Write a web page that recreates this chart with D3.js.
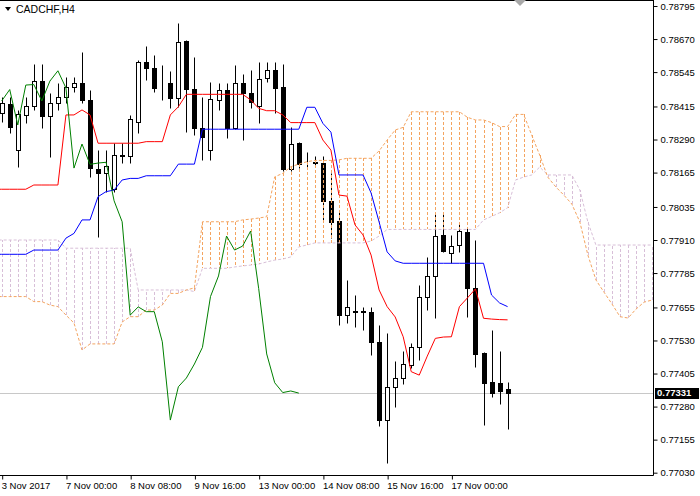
<!DOCTYPE html>
<html><head><meta charset="utf-8">
<script src="https://cdn.jsdelivr.net/npm/d3@7"></script>
<style>body{margin:0;background:#fff;} svg{display:block;}</style>
</head><body><svg id="c" width="700" height="496"></svg>
<script>
// ---------------- DATA ----------------
const symbol = "CADCHF,H4";
const timeLabels = ["3 Nov 2017","7 Nov 00:00","8 Nov 08:00","9 Nov 16:00","13 Nov 00:00","14 Nov 08:00","15 Nov 16:00","17 Nov 00:00"];
const timeLabelBars = [0,8,16,24,32,40,48,56];
const priceTicks = [0.78795,0.78670,0.78545,0.78415,0.78290,0.78165,0.78035,0.77910,0.77785,0.77655,0.77530,0.77405,0.77280,0.77155,0.77030];
const lastPrice = 0.77331;

// candles, bar 0 .. 63
const open = [0.78390,0.78423,0.78250,0.78383,0.78417,0.78511,0.78379,0.78429,0.78452,0.78490,
0.78503,0.78440,0.78177,0.78162,0.78103,0.78228,0.78228,0.78357,0.78584,0.78559,
0.78504,0.78503,0.78446,0.78664,0.78480,0.78333,0.78250,0.78440,0.78477,0.78333,
0.78504,0.78466,0.78417,0.78523,0.78553,0.78489,0.78177,0.78278,0.78200,0.78203,
0.78202,0.78059,0.77982,0.77626,0.77639,0.77640,0.77639,0.77525,0.77229,0.77355,
0.77387,0.77437,0.77504,0.77696,0.77774,0.77929,0.77862,0.77891,0.77941,0.77727,
0.77484,0.77374,0.77370,0.77345];
const high = [0.78451,0.78452,0.78402,0.78452,0.78575,0.78575,0.78465,0.78503,0.78528,0.78528,
0.78622,0.78477,0.78250,0.78250,0.78277,0.78277,0.78383,0.78591,0.78644,0.78610,
0.78572,0.78550,0.78730,0.78666,0.78603,0.78452,0.78509,0.78503,0.78503,0.78572,
0.78538,0.78553,0.78583,0.78583,0.78583,0.78576,0.78339,0.78281,0.78244,0.78228,
0.78228,0.78162,0.78024,0.77759,0.77702,0.77657,0.77658,0.77589,0.77559,0.77454,
0.77491,0.77519,0.77740,0.77847,0.78012,0.78013,0.77929,0.77974,0.77960,0.77910,
0.77486,0.77570,0.77490,0.77374];
const low = [0.78356,0.78314,0.78187,0.78351,0.78402,0.78333,0.78225,0.78402,0.78427,0.78471,
0.78427,0.78149,0.77923,0.78093,0.78092,0.78200,0.78200,0.78314,0.78515,0.78471,
0.78440,0.78408,0.78414,0.78320,0.78307,0.78213,0.78213,0.78402,0.78295,0.78330,
0.78288,0.78409,0.78353,0.78508,0.78390,0.78171,0.78171,0.78182,0.78177,0.78191,
0.77986,0.77917,0.77589,0.77596,0.77581,0.77570,0.77475,0.77207,0.77066,0.77277,
0.77365,0.77425,0.77456,0.77645,0.77615,0.77865,0.77822,0.77866,0.77620,0.77429,
0.77210,0.77315,0.77289,0.77194];
const close = [0.78428,0.78339,0.78385,0.78417,0.78511,0.78379,0.78429,0.78452,0.78490,0.78503,
0.78440,0.78181,0.78162,0.78190,0.78231,0.78230,0.78367,0.78584,0.78559,0.78484,
0.78502,0.78446,0.78660,0.78480,0.78333,0.78301,0.78442,0.78477,0.78333,0.78503,
0.78466,0.78432,0.78519,0.78553,0.78485,0.78177,0.78273,0.78196,0.78201,0.78204,
0.78058,0.77979,0.77626,0.77657,0.77640,0.77639,0.77525,0.77229,0.77355,0.77388,
0.77441,0.77504,0.77696,0.77774,0.77925,0.77870,0.77887,0.77944,0.77727,0.77479,
0.77370,0.77333,0.77339,0.77331];

// Ichimoku lines, bar -1 .. 63
const tenkan = [0.78102,0.78102,0.78102,0.78102,0.78102,0.78118,0.78118,0.78118,0.78118,
0.78383,0.78383,0.78402,0.78383,
0.78276,0.78276,0.78276,0.78276,0.78276,0.78276,
0.78282,0.78282,0.78282,0.78383,0.78414,
0.78461,0.78461,0.78461,0.78461,0.78461,0.78461,0.78461,0.78461,
0.78440,0.78408,0.78399,0.78399,0.78383,0.78354,0.78354,0.78354,0.78354,
0.78288,0.78250,0.78080,0.78076,0.77967,0.77929,0.77853,0.77721,0.77658,0.77619,
0.77544,0.77412,0.77399,0.77471,0.77538,0.77543,0.77544,0.77658,0.77691,0.77725,
0.77614,0.77611,0.77609,0.77608];
const kijun = [0.77856,0.77856,0.77856,0.77856,0.77856,0.77872,0.77872,0.77872,0.77872,
0.77917,0.77935,0.77986,0.77986,0.78074,0.78093,0.78099,0.78137,0.78143,0.78143,
0.78153,0.78153,0.78153,0.78153,0.78197,0.78197,0.78197,
0.78329,0.78329,0.78329,0.78329,0.78329,0.78329,0.78329,0.78329,0.78329,0.78329,0.78329,0.78329,0.78329,
0.78412,0.78412,0.78351,0.78318,0.78156,0.78156,0.78156,0.78156,0.78088,0.77978,0.77865,0.77831,
0.77822,0.77822,0.77822,0.77822,0.77822,0.77822,0.77822,0.77822,0.77822,0.77822,0.77822,
0.77702,0.77672,0.77658];
// Chikou span, bar 0 .. 37
const chikou = [0.78436,0.78479,0.78345,0.78496,0.78498,0.78436,0.78511,0.78550,0.78485,0.78182,
0.78273,0.78196,0.78201,0.78204,0.78058,0.77979,0.77626,0.77657,0.77639,0.77639,
0.77525,0.77229,0.77355,0.77388,0.77441,0.77504,0.77696,0.77774,0.77925,0.77872,
0.77887,0.77944,0.77727,0.77479,0.77370,0.77333,0.77339,0.77331];
// Senkou spans, bar -1 .. 81
const senkouA = [0.77696,0.77696,0.77696,0.77696,0.77696,0.77677,0.77677,0.77664,0.77658,0.77626,
0.77596,0.77494,0.77517,0.77517,0.77517,0.77517,0.77600,0.77620,0.77620,0.77645,
0.77645,0.77664,0.77708,0.77708,0.77721,0.77729,0.77979,0.77979,0.77979,0.77979,
0.77979,0.77986,0.77989,0.77993,0.77998,0.78149,0.78162,0.78187,0.78197,0.78206,
0.78211,0.78211,0.78211,0.78213,0.78219,0.78219,0.78219,0.78219,0.78247,0.78288,
0.78326,0.78336,0.78395,0.78395,0.78395,0.78395,0.78395,0.78395,0.78395,0.78374,
0.78364,0.78364,0.78354,0.78339,0.78339,0.78385,0.78385,0.78307,0.78231,0.78148,
0.78111,0.78080,0.78046,0.77978,0.77853,0.77759,0.77713,0.77668,0.77620,0.77615,
0.77649,0.77675,0.77683];
const senkouB = [0.77910,0.77910,0.77910,0.77910,0.77910,0.77910,0.77910,0.77910,0.77910,
0.77879,0.77879,0.77879,0.77879,0.77879,0.77879,0.77879,0.77879,0.77879,
0.77721,0.77721,0.77721,0.77721,0.77721,0.77721,0.77721,0.77715,
0.77803,0.77803,0.77803,0.77803,0.77808,0.77812,0.77815,0.77819,0.77827,0.77834,0.77838,0.77846,
0.77884,0.77891,0.77899,0.77899,0.77899,0.77899,0.77899,0.77899,0.77899,0.77906,0.77925,
0.77950,0.77950,0.77950,0.77950,0.77950,0.77950,0.77950,0.77950,0.77950,0.77950,0.77950,0.77950,
0.77986,0.77999,0.78013,0.78032,0.78137,0.78148,0.78156,0.78186,
0.78156,0.78156,0.78156,0.78156,0.78099,0.77978,
0.77891,0.77891,0.77891,0.77891,0.77891,0.77891,0.77891,0.77891];

// ---------------- DRAW ----------------
const W = 700, H = 496, plotR = 653, plotB = 475;
const FONT = "Liberation Sans, Arial, sans-serif";
const svg = d3.select("#c");
const x = d3.scaleLinear().domain([0, 81]).range([1.7, 1.7 + 81 * 8.03]);
const y = d3.scaleLinear().domain([0.7702125, 0.788177]).range([plotB, 0]);
const px = i => Math.round(x(i)) + 0.5;
const py = v => Math.round(y(v)) + 0.5;

svg.append("rect").attr("width", W).attr("height", H).attr("fill", "#fff");
svg.append("defs").append("clipPath").attr("id", "clip")
  .append("rect").attr("x", 0).attr("y", 0).attr("width", plotR).attr("height", plotB);
const g = svg.append("g").attr("clip-path", "url(#clip)");

// last price line
g.append("line").attr("x1", 0).attr("x2", plotR)
  .attr("y1", py(lastPrice)).attr("y2", py(lastPrice))
  .attr("stroke", "#C8C8C8").attr("stroke-width", 1);

// candles
const bars = open.map((o, i) => ({i, o, h: high[i], l: low[i], c: close[i]}));
g.append("g").selectAll("line").data(bars).join("line")
  .attr("x1", d => px(d.i)).attr("x2", d => px(d.i))
  .attr("y1", d => py(d.h)).attr("y2", d => py(d.l))
  .attr("stroke", "#000").attr("stroke-width", 1);
g.append("g").selectAll("rect").data(bars).join("rect")
  .attr("x", d => Math.round(x(d.i)) - 2 + 0.5)
  .attr("width", 4)
  .attr("y", d => py(Math.max(d.o, d.c)))
  .attr("height", d => Math.max(0, py(Math.min(d.o, d.c)) - py(Math.max(d.o, d.c))))
  .attr("fill", d => d.c < d.o ? "#000" : "#fff")
  .attr("stroke", "#000").attr("stroke-width", 1);

// cloud hatch: dotted verticals from Senkou A to Senkou B at every bar
const SANDY = "#F4A460", THISTLE = "#D8BFD8";
const cloud = senkouA.map((a, k) => ({i: k - 1, a, b: senkouB[k]}));
g.append("g").attr("shape-rendering", "crispEdges")
  .selectAll("line").data(cloud).join("line")
  .attr("x1", d => px(d.i)).attr("x2", d => px(d.i))
  .attr("y1", d => Math.round(y(d.a)))
  .attr("y2", d => Math.round(y(d.b)))
  .attr("stroke", d => (d.a >= d.b) ? SANDY : THISTLE)
  .attr("stroke-width", 1).attr("stroke-dasharray", "3,2");

const lineGen = (arr, start) => d3.line().x((v, k) => x(k + start)).y(v => y(v))(arr);
g.append("path").attr("d", lineGen(senkouB, -1)).attr("fill", "none")
  .attr("stroke", THISTLE).attr("stroke-width", 1).attr("stroke-dasharray", "3,2");
g.append("path").attr("d", lineGen(senkouA, -1)).attr("fill", "none")
  .attr("stroke", SANDY).attr("stroke-width", 1).attr("stroke-dasharray", "3,2");
g.append("path").attr("d", lineGen(tenkan, -1)).attr("fill", "none")
  .attr("stroke", "#FF0000").attr("stroke-width", 1);
g.append("path").attr("d", lineGen(kijun, -1)).attr("fill", "none")
  .attr("stroke", "#0000FF").attr("stroke-width", 1);
g.append("path").attr("d", lineGen(chikou, 0)).attr("fill", "none")
  .attr("stroke", "#008000").attr("stroke-width", 1);

// frame lines
svg.append("line").attr("x1", 0).attr("x2", plotR + 0.5).attr("y1", 0.5).attr("y2", 0.5).attr("stroke", "#000");
svg.append("line").attr("x1", plotR + 0.5).attr("x2", plotR + 0.5).attr("y1", 0).attr("y2", plotB + 0.5).attr("stroke", "#000");
svg.append("line").attr("x1", 0).attr("x2", plotR + 0.5).attr("y1", plotB + 0.5).attr("y2", plotB + 0.5).attr("stroke", "#000");

// right price axis
const yAxis = d3.axisRight(y).tickValues(priceTicks).tickSize(4).tickSizeOuter(0)
  .tickFormat(d3.format(".5f"));
const ya = svg.append("g").attr("transform", `translate(${plotR + 0.5},0)`).call(yAxis);
ya.select(".domain").remove();
ya.selectAll("text").attr("font-family", FONT).attr("font-size", "9.5px").attr("fill", "#000");
ya.selectAll("line").attr("stroke", "#000");

// bottom time axis
const xAxis = d3.axisBottom(x).tickValues(timeLabelBars).tickSize(4).tickSizeOuter(0)
  .tickFormat((d, k) => timeLabels[k]);
const xa = svg.append("g").attr("transform", `translate(0.5,${plotB + 0.5})`).call(xAxis);
xa.select(".domain").remove();
xa.selectAll("text").attr("text-anchor", "start").attr("dx", "-1")
  .attr("font-family", FONT).attr("font-size", "9.5px").attr("fill", "#000");
xa.selectAll("line").attr("stroke", "#000");

// last price label
const ly = y(lastPrice);
svg.append("rect").attr("x", 655).attr("y", Math.round(ly) - 5).attr("width", 44).attr("height", 11).attr("fill", "#000");
svg.append("text").attr("x", 657).attr("y", ly).attr("dy", "0.34em")
  .attr("font-family", FONT).attr("font-size", "9.5px").attr("font-weight", "bold")
  .attr("fill", "#fff").text(d3.format(".5f")(lastPrice));

// title
svg.append("path").attr("d", "M5,7 L11,7 L8,11 Z").attr("fill", "#000");
svg.append("text").attr("x", 16).attr("y", 12.5).attr("font-family", FONT)
  .attr("font-size", "10.5px").attr("fill", "#000").text(symbol);

// shift marker
svg.append("path").attr("d", "M514,0 L526,0 L520,6 Z").attr("fill", "#A8A8A8");
</script>
</body></html>
